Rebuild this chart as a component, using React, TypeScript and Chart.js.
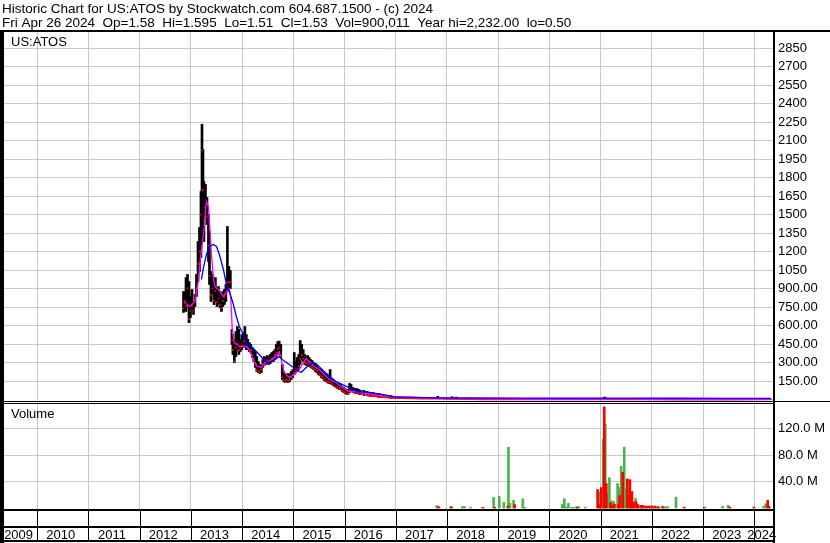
import React, { useEffect, useRef } from 'react';
import { Chart, registerables } from 'chart.js';

Chart.register(...registerables);

const FONT = "'Liberation Sans', Arial, sans-serif";
const HEADER_LINE_1 = 'Historic Chart for US:ATOS by Stockwatch.com 604.687.1500 - (c) 2024';
const HEADER_LINE_2 = 'Fri Apr 26 2024  Op=1.58  Hi=1.595  Lo=1.51  Cl=1.53  Vol=900,011  Year hi=2,232.00  lo=0.50';
const SYMBOL = 'US:ATOS';
const VOLUME_TITLE = 'Volume';

const YEAR_BOUNDARIES = [2010, 2011, 2012, 2013, 2014, 2015, 2016, 2017, 2018, 2019, 2020, 2021, 2022, 2023, 2024];
const YEAR_LABELS = ['2009', '2010', '2011', '2012', '2013', '2014', '2015', '2016', '2017', '2018', '2019', '2020', '2021', '2022', '2023', '2024'];
const X_MIN = 2009.352;
const X_MAX = 2024.364;

const PRICE_TICKS = [150, 300, 450, 600, 750, 900, 1050, 1200, 1350, 1500, 1650, 1800, 1950, 2100, 2250, 2400, 2550, 2700, 2850];
const PRICE_MIN = -896;
const PRICE_MAX = 2980;
const VOLUME_TICKS = [40, 80, 120]; // millions
const VOLUME_MIN = -3.03;
const VOLUME_MAX = 721;

// Daily-ish price range bars (2012-2016)
const priceYears = [
  2012.856, 2012.886, 2012.905, 2012.934, 2012.963, 2012.993, 2013.022, 2013.051, 2013.080, 2013.109,
  2013.139, 2013.168, 2013.197, 2013.217, 2013.236, 2013.255, 2013.285, 2013.314, 2013.343, 2013.363,
  2013.392, 2013.421, 2013.450, 2013.479, 2013.509, 2013.538, 2013.567, 2013.596, 2013.625, 2013.655,
  2013.684, 2013.713, 2013.742, 2013.771, 2013.801, 2013.820, 2013.849, 2013.879, 2013.908, 2013.937,
  2013.966, 2013.995, 2014.025, 2014.054, 2014.083, 2014.112, 2014.141, 2014.171, 2014.200, 2014.229,
  2014.258, 2014.287, 2014.317, 2014.346, 2014.375, 2014.404, 2014.433, 2014.463, 2014.492, 2014.521,
  2014.550, 2014.579, 2014.609, 2014.638, 2014.667, 2014.696, 2014.725, 2014.755, 2014.784, 2014.813,
  2014.842, 2014.871, 2014.901, 2014.930, 2014.959, 2014.988, 2015.018, 2015.047, 2015.076, 2015.105,
  2015.134, 2015.164, 2015.193, 2015.222, 2015.251, 2015.280, 2015.310, 2015.339, 2015.368, 2015.397,
  2015.426, 2015.456, 2015.485, 2015.514, 2015.543, 2015.572, 2015.602, 2015.631, 2015.660, 2015.689,
  2015.718, 2015.748, 2015.777, 2015.806, 2015.835, 2015.864, 2015.894, 2015.923, 2015.952, 2015.981,
  2016.011, 2016.040, 2016.069, 2016.098, 2016.127, 2016.166, 2016.205, 2016.244, 2016.283, 2016.322,
  2016.380, 2016.439, 2016.497, 2016.555, 2016.614, 2016.673, 2016.750, 2016.828, 2016.906, 2017.003,
];
const priceHigh = [
  876, 868, 989, 1014, 957, 835, 892, 795, 852, 1014,
  1281, 1395, 1687, 2232, 2027, 1768, 1744, 1638, 1500, 1362,
  1038, 1014, 957, 989, 908, 916, 876, 852, 876, 892,
  933, 1403, 1079, 1046, 568, 527, 487, 551, 592, 568,
  487, 527, 543, 592, 527, 487, 462, 446, 422, 405,
  389, 349, 308, 284, 276, 324, 349, 341, 357, 349,
  365, 381, 389, 405, 446, 470, 473, 446, 284, 227,
  211, 203, 211, 203, 227, 243, 381, 308, 341, 365,
  478, 446, 405, 365, 349, 357, 341, 324, 316, 300,
  292, 276, 260, 251, 243, 227, 219, 203, 195, 187,
  243, 170, 162, 146, 138, 138, 130, 122, 105, 97,
  89, 81, 81, 130, 122, 97, 89, 89, 81, 73,
  73, 65, 57, 57, 49, 49, 41, 32, 32, 24,
];
const priceLow = [
  706, 722, 714, 762, 624, 665, 714, 689, 754, 835,
  957, 1038, 1152, 1419, 1300, 1281, 1500, 1419, 1119, 933,
  795, 852, 770, 795, 754, 770, 746, 714, 754, 770,
  795, 876, 908, 900, 446, 365, 300, 349, 405, 365,
  389, 405, 422, 446, 405, 405, 389, 381, 341, 308,
  260, 227, 219, 211, 219, 260, 276, 284, 292, 284,
  292, 308, 308, 324, 341, 365, 389, 341, 162, 146,
  138, 146, 138, 146, 162, 178, 203, 219, 227, 243,
  284, 324, 308, 284, 276, 284, 268, 260, 251, 243,
  227, 219, 203, 195, 178, 170, 154, 146, 138, 130,
  130, 122, 114, 105, 97, 89, 81, 81, 65, 57,
  49, 41, 41, 57, 65, 57, 49, 49, 41, 41,
  32, 32, 24, 24, 24, 16, 16, 16, 8, 8,
];
const priceClose = [
  740, 800, 760, 900, 650, 720, 760, 720, 800, 900,
  1100, 1200, 1500, 2020, 1700, 1450, 1560, 1480, 1250, 1000,
  850, 900, 800, 880, 790, 820, 770, 740, 800, 830,
  850, 950, 950, 950, 480, 400, 310, 420, 450, 400,
  420, 440, 470, 480, 430, 420, 400, 400, 360, 330,
  280, 240, 230, 220, 240, 290, 300, 300, 320, 300,
  320, 330, 340, 360, 380, 410, 420, 360, 180, 160,
  150, 160, 150, 160, 180, 200, 220, 240, 250, 270,
  330, 360, 330, 300, 290, 300, 290, 270, 260, 250,
  240, 230, 210, 200, 190, 180, 165, 150, 145, 140,
  140, 130, 120, 110, 105, 95, 90, 85, 70, 60,
  55, 45, 45, 70, 70, 60, 55, 55, 45, 45,
  40, 35, 30, 28, 28, 22, 20, 18, 14, 12,
];

// Low-priced tail (2017-2024)
const tailYears = [2017.10, 2017.30, 2017.50, 2017.70, 2017.82, 2018.00, 2018.10, 2018.18, 2018.40, 2018.70, 2019.00, 2019.20, 2019.50, 2020.00, 2020.50, 2020.95, 2021.08, 2021.30, 2021.60, 2022.00, 2022.50, 2023.00, 2023.50, 2024.00, 2024.32];
const tailHigh = [20, 18, 16, 14, 26, 14, 22, 20, 10, 8, 6, 9, 5, 4, 3, 8, 20, 9, 5, 3, 2.5, 2, 1.5, 2.5, 1.6];
const tailLow = [8, 8, 6, 6, 7, 5, 5, 5, 3, 2, 1.5, 2, 1.5, 1, 1, 1.2, 3, 2, 1.5, 1, 0.8, 0.6, 0.5, 0.9, 1.5];
const tailClose = [12, 10, 9, 8, 9, 7, 7, 6, 4, 3, 2, 3, 2, 1.5, 1.2, 2, 5, 3, 2, 1.5, 1, 0.8, 0.6, 1.2, 1.53];

// Short moving average (magenta)
const shortMaYears = [
  2012.856, 2012.973, 2013.070, 2013.148, 2013.178, 2013.246, 2013.304, 2013.343, 2013.372, 2013.402,
  2013.440, 2013.470, 2013.538, 2013.635, 2013.694, 2013.752, 2013.781, 2013.810, 2013.849, 2013.947,
  2014.083, 2014.141, 2014.200, 2014.297, 2014.375, 2014.473, 2014.589, 2014.687, 2014.725, 2014.764,
  2014.823, 2014.920, 2015.018, 2015.115, 2015.173, 2015.251, 2015.310, 2015.407, 2015.504, 2015.602,
  2015.699, 2015.835, 2015.952, 2016.088, 2016.225, 2016.419, 2016.711, 2017.003, 2017.490,
  2018.0, 2019.0, 2020.0, 2021.1, 2021.5, 2022.0, 2023.0, 2024.32,
];
const shortMa = [
  795, 754, 787, 957, 1119, 1338, 1606, 1565, 1379, 1176,
  989, 916, 892, 835, 876, 900, 811, 543, 462, 430,
  430, 405, 341, 268, 260, 300, 324, 365, 389, 324,
  219, 178, 203, 243, 284, 332, 308, 268, 243, 203,
  162, 138, 97, 65, 65, 49, 32, 24, 12,
  7, 3, 2, 4, 3, 1.5, 1, 1.5,
];

// Long moving average (blue)
const longMaYears = [
  2013.207, 2013.246, 2013.304, 2013.363, 2013.440, 2013.499, 2013.557, 2013.635, 2013.694, 2013.752,
  2013.830, 2013.888, 2013.947, 2014.005, 2014.102, 2014.200, 2014.336, 2014.473, 2014.589, 2014.725,
  2014.784, 2014.920, 2015.057, 2015.154, 2015.251, 2015.368, 2015.465, 2015.602, 2015.738, 2015.835,
  2015.952, 2016.088, 2016.244, 2016.419, 2016.769, 2016.964, 2017.295, 2017.685,
  2018.5, 2019.5, 2020.5, 2021.5, 2022.5, 2023.5, 2024.32,
];
const longMa = [
  973, 1071, 1176, 1241, 1257, 1241, 1176, 1054, 933, 876,
  770, 673, 592, 543, 446, 422, 365, 300, 308, 349,
  324, 284, 243, 219, 260, 300, 284, 227, 178, 146,
  122, 97, 65, 61, 40, 22, 19, 14,
  12, 11, 10, 11, 10, 9, 9,
];

// Volume, millions of shares
const volUpYears = [
  2017.80, 2018.07, 2018.30, 2018.34, 2018.46, 2018.91, 2019.02, 2019.11, 2019.20, 2019.23,
  2019.30, 2019.48, 2019.52, 2020.25, 2020.29, 2020.33, 2020.37, 2020.43, 2020.47, 2020.53,
  2020.57, 2020.70, 2020.97, 2021.05, 2021.09, 2021.13, 2021.17, 2021.21, 2021.25, 2021.33,
  2021.36, 2021.40, 2021.46, 2021.50, 2021.56, 2021.60, 2021.68, 2021.71, 2021.75, 2021.87,
  2021.97, 2022.08, 2022.20, 2022.31, 2022.47, 2023.38, 2023.49, 2024.18, 2024.22, 2024.30,
  2021.81, 2021.91, 2022.02, 2022.14, 2022.27,
];
const volUp = [
  3.8, 2.3, 2.3, 2.3, 1, 16, 17.6, 8.4, 92, 7,
  11.5, 14, 1, 5.3, 14, 1.5, 7, 1, 1, 2,
  2, 1, 24, 104.5, 127, 22, 46, 11, 10, 37,
  31, 63, 92, 30, 20, 8, 14.5, 6, 3, 2,
  3, 2, 3, 2, 16.5, 2.6, 4, 2.5, 6.4, 1.5,
  2.5, 2, 2.5, 1.5, 2,
];
const volDownYears = [
  2017.84, 2018.09, 2018.70, 2018.93, 2019.19, 2019.32, 2020.54, 2020.94, 2020.99, 2021.01,
  2021.07, 2021.11, 2021.19, 2021.23, 2021.27, 2021.34, 2021.37, 2021.43, 2021.52, 2021.57,
  2021.61, 2021.64, 2021.69, 2021.73, 2021.79, 2021.83, 2021.89, 2021.94, 2022.00, 2022.06,
  2022.12, 2022.22, 2022.63, 2023.02, 2023.52, 2023.99, 2024.26, 2024.28,
];
const volDown = [
  2, 1.5, 1, 1, 3, 5.3, 1, 28, 5, 31,
  153, 37, 8, 4, 6, 5, 19, 54, 44, 43,
  25, 9, 10, 5, 4, 4, 3, 3, 3, 3,
  2, 2, 1.3, 1.3, 1.3, 1.3, 11.5, 3,
];

const GRID = '#c8c8c8';
const GREEN = '#4cb24c';
const RED = '#ff0000';

const framePlugin = {
  id: 'stockFrame',
  afterLayout(chart: any) {
    // let the zero-width volume axis draw its labels in the right-hand margin
    const yVol = chart.scales.yVol;
    if (yVol) yVol.right = chart.width;
  },
  beforeDraw(chart: any) {
    const { ctx, width, height } = chart;
    ctx.save();
    ctx.fillStyle = '#ffffff';
    ctx.fillRect(0, 0, width, height);
    ctx.restore();
  },
  afterDatasetsDraw(chart: any) {
    const { ctx, chartArea } = chart;
    const yPrice = chart.scales.yPrice;
    const panelSplit = Math.round(yPrice.getPixelForValue(0)) + 1;
    ctx.save();
    ctx.fillStyle = '#000';
    ctx.font = `13px ${FONT}`;
    ctx.textAlign = 'left';
    ctx.textBaseline = 'alphabetic';
    ctx.fillText(SYMBOL, chartArea.left + 7, chartArea.top + 14);
    ctx.fillText(VOLUME_TITLE, chartArea.left + 7, panelSplit + 17);
    ctx.restore();
  },
  afterDraw(chart: any) {
    const { ctx, chartArea, width } = chart;
    const xs = chart.scales.x;
    const yPrice = chart.scales.yPrice;
    const left = chartArea.left;
    const right = chartArea.right;
    const top = chartArea.top;
    const bottom = chartArea.bottom;
    const panelSplit = Math.round(yPrice.getPixelForValue(0)) + 1;
    const rowH = 16;
    ctx.save();
    ctx.fillStyle = '#000';
    // header
    ctx.font = `13.5px ${FONT}`;
    ctx.textAlign = 'left';
    ctx.textBaseline = 'alphabetic';
    ctx.fillText(HEADER_LINE_1, 2, top - 19);
    ctx.fillText(HEADER_LINE_2, 2, top - 5);
    // frame lines
    ctx.fillRect(0, top - 2, width, 2);
    ctx.fillRect(0, top - 2, left, 543 - top + 2);
    ctx.fillRect(right, top - 2, 2, 543 - top + 2);
    ctx.fillRect(0, panelSplit, width, 1);
    ctx.fillRect(0, panelSplit + 2, right + 2, 1);
    ctx.fillRect(0, bottom - 1, right + 2, 2);
    ctx.fillRect(0, bottom + rowH, right + 2, 2);
    ctx.fillRect(0, bottom + 2 * rowH - 2, right + 2, 2);
    // year cells
    const edges = [left, ...YEAR_BOUNDARIES.map((v) => xs.getPixelForValue(v)), right];
    YEAR_BOUNDARIES.forEach((v) => {
      const px = Math.round(xs.getPixelForValue(v));
      ctx.fillRect(px, bottom, 1, 2 * rowH - 1);
    });
    ctx.font = `13px ${FONT}`;
    ctx.textAlign = 'center';
    YEAR_LABELS.forEach((label, i) => {
      const cx = (edges[i] + edges[i + 1]) / 2 - 2;
      ctx.fillText(label, cx, bottom + 2 * rowH - 3);
    });
    ctx.restore();
  },
};

export default function App() {
  const ref = useRef<HTMLCanvasElement>(null);
  useEffect(() => {
    const canvas = ref.current;
    if (!canvas) return;
    document.body.style.margin = '0';

    const barData = [
      ...priceYears.map((x, i) => ({ x, y: [priceLow[i], priceHigh[i]] })),
      ...tailYears.map((x, i) => ({ x, y: [tailLow[i], tailHigh[i]] })),
    ];
    const closeMarks = priceYears.map((x, i) => ({ x, y: priceClose[i] }));
    const closeLine = [
      ...priceYears.map((x, i) => ({ x, y: priceClose[i] })).filter((p) => p.x >= 2016.4),
      ...tailYears.map((x, i) => ({ x, y: tailClose[i] })),
    ];

    const tickFont = { family: FONT, size: 13 };

    const chart = new Chart(canvas, {
      type: 'bar',
      data: {
        datasets: [
          {
            type: 'bar',
            data: volUpYears.map((x, i) => ({ x, y: volUp[i] })),
            backgroundColor: GREEN,
            barThickness: 2,
            grouped: false,
            borderWidth: 0,
            xAxisID: 'x',
            yAxisID: 'yVol',
            order: 8,
          },
          {
            type: 'bar',
            data: volDownYears.map((x, i) => ({ x, y: volDown[i] })),
            backgroundColor: RED,
            barThickness: 2,
            grouped: false,
            borderWidth: 0,
            xAxisID: 'x',
            yAxisID: 'yVol',
            order: 7,
          },
          {
            type: 'bar',
            data: barData,
            backgroundColor: '#000',
            barThickness: 2,
            grouped: false,
            borderWidth: 0,
            xAxisID: 'x',
            yAxisID: 'yPrice',
            order: 6,
          },
          {
            type: 'scatter',
            data: closeMarks,
            backgroundColor: RED,
            borderWidth: 0,
            pointStyle: 'rect',
            pointRadius: 1.2,
            xAxisID: 'x',
            yAxisID: 'yPrice',
            order: 5,
          },
          {
            type: 'line',
            data: closeLine,
            borderColor: RED,
            borderWidth: 2,
            pointRadius: 0,
            tension: 0,
            xAxisID: 'x',
            yAxisID: 'yPrice',
            order: 4,
          },
          {
            type: 'line',
            data: shortMaYears.map((x, i) => ({ x, y: shortMa[i] })),
            borderColor: '#ff00ff',
            borderWidth: 1.3,
            pointRadius: 0,
            tension: 0,
            xAxisID: 'x',
            yAxisID: 'yPrice',
            order: 3,
          },
          {
            type: 'line',
            data: longMaYears.map((x, i) => ({ x, y: longMa[i] })),
            borderColor: '#0000ff',
            borderWidth: 1.3,
            pointRadius: 0,
            tension: 0,
            xAxisID: 'x',
            yAxisID: 'yPrice',
            order: 2,
          },
        ],
      },
      options: {
        animation: false,
        responsive: false,
        devicePixelRatio: 1,
        events: [],
        layout: { padding: { top: 32, left: 2, right: 0, bottom: 0 } },
        plugins: { legend: { display: false }, tooltip: { enabled: false } },
        scales: {
          x: {
            type: 'linear',
            min: X_MIN,
            max: X_MAX,
            offset: false,
            grid: { color: GRID, drawTicks: false, offset: false, lineWidth: 1 },
            border: { display: false },
            ticks: { display: false },
            afterBuildTicks: (s: any) => {
              s.ticks = YEAR_BOUNDARIES.map((value) => ({ value }));
            },
            afterFit: (s: any) => {
              s.height = 33;
            },
          },
          yVol: {
            type: 'linear',
            position: 'right',
            min: VOLUME_MIN,
            max: VOLUME_MAX,
            grid: { color: GRID, drawTicks: false },
            border: { display: false },
            ticks: {
              autoSkip: false,
              padding: 5,
              color: '#000',
              font: tickFont,
              callback: (v: any) => `${Number(v).toFixed(1)} M`,
            },
            afterBuildTicks: (s: any) => {
              s.ticks = VOLUME_TICKS.map((value) => ({ value }));
            },
            afterFit: (s: any) => {
              s.width = 0;
            },
          },
          yPrice: {
            type: 'linear',
            position: 'right',
            min: PRICE_MIN,
            max: PRICE_MAX,
            grid: { color: GRID, drawTicks: false },
            border: { display: false },
            ticks: {
              autoSkip: false,
              padding: 5,
              color: '#000',
              font: tickFont,
              callback: (v: any) => (Number(v) >= 1000 ? String(v) : Number(v).toFixed(2)),
            },
            afterBuildTicks: (s: any) => {
              s.ticks = PRICE_TICKS.map((value) => ({ value }));
            },
            afterFit: (s: any) => {
              s.width = 57;
            },
          },
        },
      } as any,
      plugins: [framePlugin],
    });
    return () => chart.destroy();
  }, []);

  return (
    <div style={{ position: 'absolute', left: 0, top: 0, width: 830, height: 543, background: '#fff' }}>
      <canvas ref={ref} width={830} height={543} style={{ display: 'block', width: 830, height: 543 }} />
    </div>
  );
}
